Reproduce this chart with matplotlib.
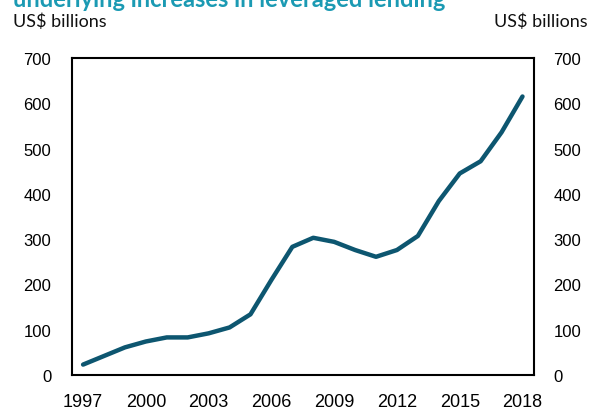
import matplotlib.pyplot as plt

# annual leveraged lending, US$ billions
years = list(range(1997, 2019))
values = [23, 42, 61, 74, 83, 83, 92, 105, 134, 210, 283, 303,
          294, 276, 261, 276, 307, 384, 445, 472, 536, 615]
xtick_years = [1997, 2000, 2003, 2006, 2009, 2012, 2015, 2018]
yticks = [0, 100, 200, 300, 400, 500, 600, 700]

title = 'underlying increases in leveraged lending'
unit = 'US$ billions'

line_col = '#0d5670'
title_col = '#1b9ab3'

fig = plt.figure(figsize=(5.96, 4.10), dpi=100)
ax = fig.add_axes([72 / 596, 1 - 376 / 410, (534 - 72) / 596, (376 - 59) / 410])

ax.plot(years, values, color=line_col, lw=3.2, solid_capstyle='round',
        solid_joinstyle='round')

ax.set_xlim(1996.47, 2018.55)
ax.set_ylim(0, 700)
ax.set_xticks(xtick_years)
ax.set_yticks(yticks)

for s in ax.spines.values():
    s.set_linewidth(1.5)
    s.set_color('black')

ax.tick_params(axis='both', length=0, labelsize=12)
ax.tick_params(axis='y', pad=15)
ax.tick_params(axis='x', pad=13, labelsize=13)
for lab in ax.get_xticklabels() + ax.get_yticklabels():
    lab.set_family('Liberation Sans')

# mirrored right axis
ax2 = ax.twinx()
ax2.set_ylim(ax.get_ylim())
ax2.set_yticks(yticks)
ax2.tick_params(axis='y', length=0, labelsize=12, pad=14)
for lab in ax2.get_yticklabels():
    lab.set_family('Liberation Sans')
for s in ax2.spines.values():
    s.set_visible(False)

# title clipped at top edge like the source
fig.text(13 / 596, 1 - 7 / 410, title, color=title_col, fontsize=17,
         fontweight='bold', family='Lato', ha='left', va='baseline')
fig.text(13 / 596, 1 - 22 / 410, unit, fontsize=13, family='Lato',
         ha='left', va='center', color='#111111')
fig.text(588 / 596, 1 - 22 / 410, unit, fontsize=13, family='Lato',
         ha='right', va='center', color='#111111')

fig.savefig('out.png', dpi=100)
